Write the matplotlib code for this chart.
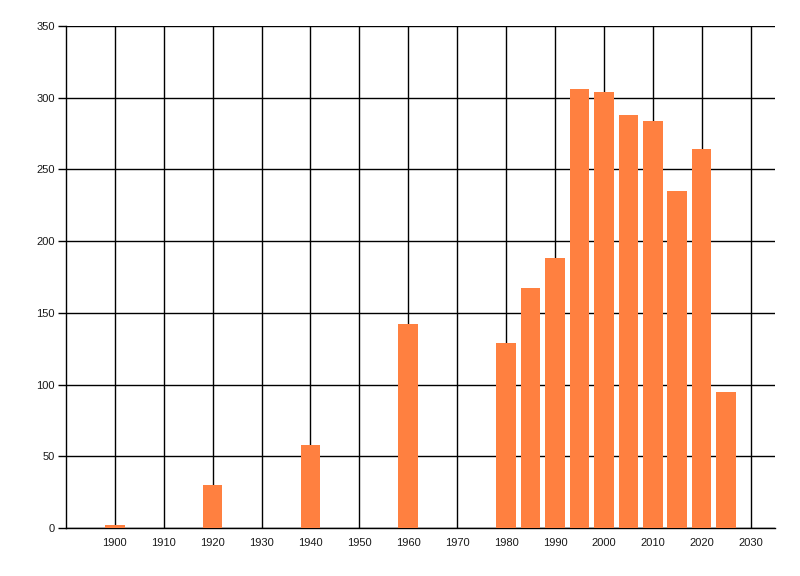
import matplotlib
matplotlib.use("Agg")
import matplotlib.pyplot as plt

years = [1900, 1920, 1940, 1960, 1980, 1985, 1990, 1995, 2000, 2005, 2010, 2015, 2020, 2025]
counts = [2, 30, 58, 142, 129, 167, 188, 306, 304, 288, 284, 235, 264, 95]
xticks = list(range(1900, 2031, 10))
yticks = list(range(0, 351, 50))

fig = plt.figure(figsize=(8, 5.76), dpi=100)
ax = fig.add_axes([66/800, 1-528/576, (775-66)/800, (528-26)/576])

ax.bar(years, counts, width=4, color='#FF8040', zorder=3)

ax.set_xlim(1890, 2035)
ax.set_ylim(0, 350)
ax.set_xticks(xticks)
ax.set_yticks(yticks)
ax.grid(True, color='black', linewidth=1, zorder=1)
for s in ['top', 'right']:
    ax.spines[s].set_visible(False)
for s in ['left', 'bottom']:
    ax.spines[s].set_linewidth(1)
    ax.spines[s].set_color('black')
ax.tick_params(axis='x', length=0, pad=7, labelsize=8, labelcolor='#1a1a1a')
ax.tick_params(axis='y', length=6, width=1, pad=2, labelsize=8, labelcolor='#1a1a1a')
for lbl in ax.get_xticklabels() + ax.get_yticklabels():
    lbl.set_family('Liberation Sans')

fig.savefig('out.png', dpi=100, facecolor='white')
